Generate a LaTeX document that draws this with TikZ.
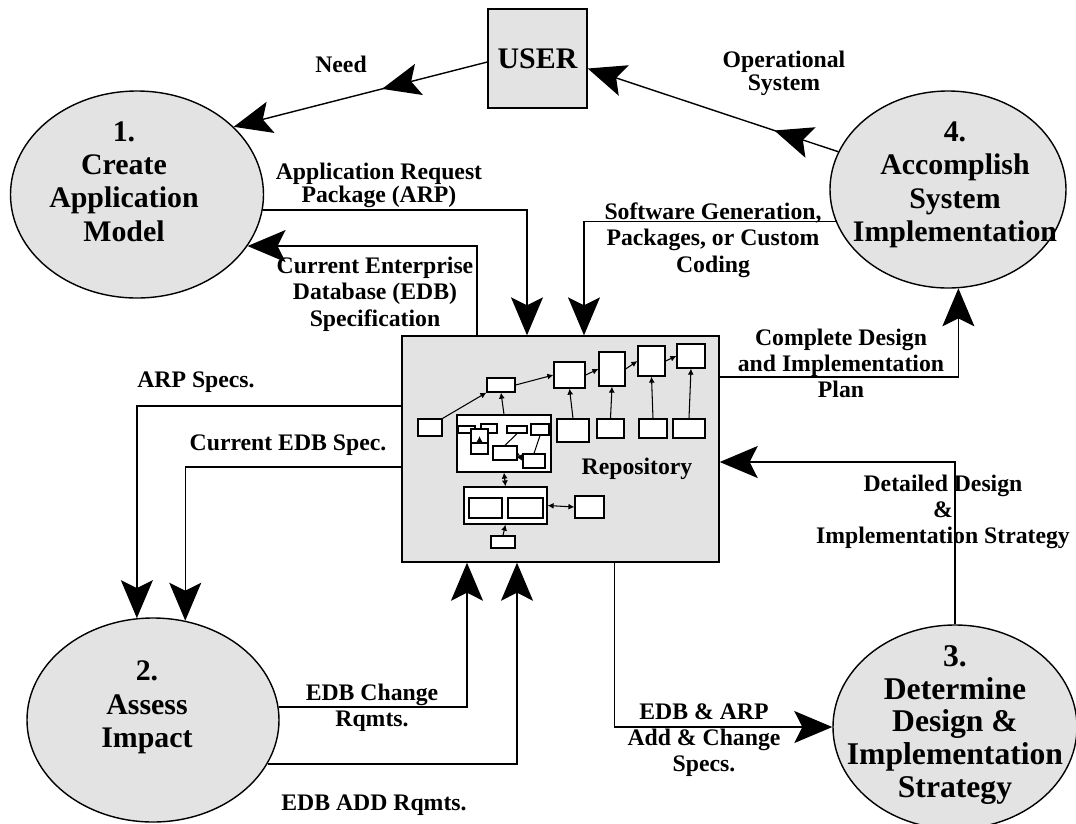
\documentclass[tikz,border=0pt]{standalone}
\usepackage{fontspec}
\setmainfont{Liberation Serif}
\usetikzlibrary{shapes.geometric,arrows.meta,decorations.markings}
\definecolor{boxgray}{RGB}{227,227,227}

\begin{document}
\begin{tikzpicture}[x=0.2mm,y=-0.2mm,
  proc/.style={ellipse,draw,fill=boxgray,line width=0.8pt,inner sep=0pt},
  proctext/.style={font=\bfseries\fontsize{17}{19}\selectfont,align=center,inner sep=0pt},
  lbl/.style={font=\bfseries\fontsize{13.5}{15}\selectfont,align=center,inner sep=0pt},
  tightlbl/.style={lbl,font=\bfseries\fontsize{13.5}{11}\selectfont},
  flow/.style={-{Stealth[length=7.6mm,width=6.4mm,inset=1.6mm]},line width=0.8pt},
  midtip/.style={postaction={decorate},decoration={markings,
    mark=at position #1 with {\arrow{Stealth[length=7.6mm,width=6.4mm,inset=1.6mm]}}}},
  part/.style={draw,fill=white,line width=0.7pt,inner sep=0pt},
  link/.style={->,>={Latex[length=1.2mm,width=1.2mm]},line width=0.6pt}]

     \useasboundingbox (0,0) rectangle (1076,823);

     % main actors
     \node[draw,fill=boxgray,line width=0.8pt,minimum width=19.8mm,minimum height=19.8mm,
       font=\bfseries\fontsize{17}{19}\selectfont] (user) at (537.5,58.5) {USER};
     \node[proc,minimum width=50.6mm,minimum height=41.4mm,
       label={[proctext,xshift=-2.6mm,yshift=2.6mm]center:{1.\\Create\\Application\\Model}}] (app) at (137,194.5) {};
     \node[proc,minimum width=50.4mm,minimum height=40.8mm,
       label={[proctext,xshift=-1.2mm,yshift=2.5mm]center:{2.\\Assess\\Impact}}] (imp) at (153,720) {};
     \node[proc,minimum width=48.8mm,minimum height=40.8mm,
       label={[proctext,font=\bfseries\fontsize{18}{18.5}\selectfont,yshift=0.4mm]center:{3.\\Determine\\Design \&\\Implementation\\Strategy}}] (det) at (955,727) {};
     \node[proc,minimum width=47.2mm,minimum height=39.4mm,
       label={[proctext,xshift=1.4mm,yshift=0.9mm]center:{4.\\Accomplish\\System\\Implementation}}] (acc) at (948,189.5) {};
     \node[draw,fill=boxgray,line width=0.8pt,minimum width=63.4mm,minimum height=45.2mm] (repo) at (560.5,449) {};
     \node[lbl] (repolbl) at (637,469) {Repository};

     % repository contents
     \node[part,minimum width=4.8mm,minimum height=3.4mm] (ra) at (430,427.5) {};
     \node[part,minimum width=5.6mm,minimum height=2.8mm] (rb) at (501,385) {};
     \node[part,minimum width=6.2mm,minimum height=5.2mm] (rc) at (569.5,375) {};
     \node[part,minimum width=5.2mm,minimum height=6.8mm] (rd) at (612,369) {};
     \node[part,minimum width=5.4mm,minimum height=6mm] (re) at (651.5,361) {};
     \node[part,minimum width=5.6mm,minimum height=4.8mm] (rf) at (691,356) {};
     \node[part,minimum width=6.4mm,minimum height=4.6mm] (rg) at (573,430.5) {};
     \node[part,minimum width=5.4mm,minimum height=3.8mm] (rh) at (610.5,428.5) {};
     \node[part,minimum width=5.6mm,minimum height=3.8mm] (ri) at (653,428.5) {};
     \node[part,minimum width=6.4mm,minimum height=3.8mm] (rj) at (689,428.5) {};
     \node[part,minimum width=18.8mm,minimum height=11.4mm] (rk) at (504,443.5) {};
     \node[part,minimum width=3.4mm,minimum height=1.4mm] (k1) at (466.5,429.5) {};
     \node[part,minimum width=3.2mm,minimum height=1.8mm] (k2) at (489,428.5) {};
     \node[part,minimum width=4mm,minimum height=1.4mm] (k3) at (517,429.5) {};
     \node[part,minimum width=3.6mm,minimum height=2.2mm] (k4) at (540,429.5) {};
     \node[part,minimum width=3.4mm,minimum height=2.8mm] (k5) at (479.5,436) {};
     \node[part,minimum width=3.4mm,minimum height=2.2mm] (k6) at (479.5,448.5) {};
     \node[part,minimum width=4.8mm,minimum height=2.8mm] (k7) at (505,453) {};
     \node[part,minimum width=4.4mm,minimum height=2.8mm] (k8) at (534,461) {};
     \node[part,minimum width=16.6mm,minimum height=7.4mm] (rl) at (505.5,505.5) {};
     \node[part,minimum width=6.6mm,minimum height=4mm] (l1) at (485.5,508) {};
     \node[part,minimum width=7mm,minimum height=4mm] (l2) at (525.5,508) {};
     \node[part,minimum width=5.8mm,minimum height=4.4mm] (rm) at (589.5,507) {};
     \node[part,minimum width=4.8mm,minimum height=2.4mm] (rn) at (503,542) {};

     \path[link]
     (ra.north east) edge (rb.south west)
     (rb.east) edge (rc.west)
     (rc.east) edge (rd.west)
     (rd.east) edge (re.west)
     (re.east) edge (rf.west)
     (rg.north) edge (rc.south)
     (rh.north) edge (rd.south)
     (ri.north) edge (re.south)
     (rj.north) edge (rf.south)
     (rk.north) edge (rb.south)
     (k7.east) edge (k8.west)
     (k5.south) edge (k5.center)
     (rn.north) edge (rl.south)
     (rk.south) edge[<->] (rl.north)
     (rl.east) edge[<->] (rm.west)
     ;
     \path[draw,line width=0.6pt]
     (k3.south) -- (k7.north)
     (k4.south) -- (k8.north)
     ;

     % flows
     \draw[flow,midtip=0.415] ([yshift=-0.7mm]user.west) -- (app.35.4);
     \draw[flow,midtip=0.255] (acc.161.6) -- ([yshift=-2mm]user.east);
     \draw[flow] (app.-7.5) -| ([xshift=-6.7mm]repo.north);
     \draw[flow] ([xshift=-16.7mm]repo.north) |- (app.-25.7);
     \draw[flow] (acc.196.8) -| ([xshift=4.7mm]repo.north);
     \draw[flow] ([yshift=14.4mm]repo.east) -| (acc.-84.8);
     \draw[flow] (det.north) |- ([yshift=-2.6mm]repo.east);
     \draw[flow] ([xshift=10.8mm]repo.south) |- (det.west);
     \draw[flow] (imp.6.4) -| ([xshift=-18.7mm]repo.south);
     \draw[flow] (imp.-21.7) -| ([xshift=-8.7mm]repo.south);
     \draw[flow] ([yshift=8.6mm]repo.west) -| (imp.99);
     \draw[flow] ([yshift=-3.6mm]repo.west) -| (imp.72);

     % flow labels
     \node[lbl] (needlbl) at (341,64) {Need};
     \node[tightlbl] (oplbl) at (784,73.5) {Operational\\System};
     \node[tightlbl] (arplbl) at (379,185.5) {Application Request\\Package (ARP)};
     \node[lbl] (edblbl) at (375,294) {Current Enterprise\\Database (EDB)\\Specification};
     \node[lbl] (swlbl) at (713,240) {Software Generation,\\Packages, or Custom\\Coding};
     \node[lbl] (planlbl) at (841,363.5) {Complete Design\\and Implementation\\Plan};
     \node[lbl] (specslbl) at (196,382) {ARP Specs.};
     \node[lbl] (curlbl) at (288,445) {Current EDB Spec.};
     \node[lbl] (stratlbl) at (943,512) {Detailed Design\\\&\\Implementation Strategy};
     \node[lbl] (chglbl) at (372,707.5) {EDB Change\\Rqmts.};
     \node[lbl] (addlbl) at (374,805) {EDB ADD Rqmts.};
     \node[lbl] (addchglbl) at (704,740) {EDB \& ARP\\Add \& Change\\Specs.};
\end{tikzpicture}
\end{document}
